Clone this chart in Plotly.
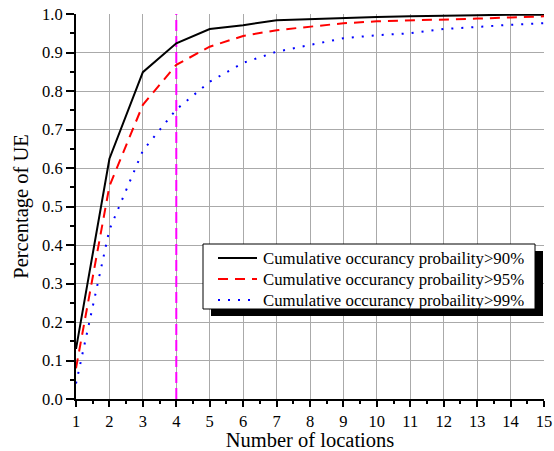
import plotly.graph_objects as go

locations = list(range(1, 16))
p90 = [0.13, 0.624, 0.849, 0.924, 0.961, 0.971, 0.984, 0.987, 0.989, 0.992, 0.994, 0.996, 0.997, 0.998, 0.998]
p95 = [0.08, 0.553, 0.764, 0.868, 0.915, 0.943, 0.958, 0.967, 0.976, 0.981, 0.983, 0.986, 0.988, 0.991, 0.994]
p99 = [0.04, 0.44, 0.645, 0.752, 0.824, 0.873, 0.902, 0.919, 0.937, 0.945, 0.950, 0.961, 0.967, 0.972, 0.976]
names = ["Cumulative occurancy probaility>90%",
         "Cumulative occurancy probaility>95%",
         "Cumulative occurancy probaility>99%"]
colors = ["black", "red", "blue"]
dashes = ["solid", "10px,7px", "2px,8px"]
y_ticks = [0.0, 0.1, 0.2, 0.3, 0.4, 0.5, 0.6, 0.7, 0.8, 0.9, 1.0]
y_tick_labels = ["0.0", "0.1", "0.2", "0.3", "0.4", "0.5", "0.6", "0.7", "0.8", "0.9", "1.0"]
x_ticks = list(range(1, 16))
marker_x = [4, 4]
marker_y = [0, 1]

FONT = "Liberation Serif"

fig = go.Figure()
fig.add_trace(go.Scatter(x=marker_x, y=marker_y, mode="lines",
                         line=dict(color="#ff00ff", width=2, dash="11px,5px"),
                         showlegend=False, hoverinfo="skip"))
for ys, nm, c, d in zip([p90, p95, p99], names, colors, dashes):
    fig.add_trace(go.Scatter(x=locations, y=ys, mode="lines", name=nm,
                             line=dict(color=c, width=2, dash=d), showlegend=False))

W, H = 554, 451
L, R, T, B = 76, 10, 14, 52
pw = W - L - R
ph = H - T - B

def px_x(p):  # page pixel -> paper
    return (p - L) / pw

def px_y(p):
    return (H - B - p) / ph

# legend box with drop shadow
bx0, bx1, by0, by1 = 203, 535, 244, 309
fig.add_shape(type="rect", xref="paper", yref="paper",
              x0=px_x(bx0 + 8), x1=px_x(bx1 + 8), y0=px_y(by1 + 7), y1=px_y(by0 + 7),
              fillcolor="black", line=dict(width=0), layer="above")
fig.add_shape(type="rect", xref="paper", yref="paper",
              x0=px_x(bx0), x1=px_x(bx1), y0=px_y(by1), y1=px_y(by0),
              fillcolor="white", line=dict(width=1, color="black"), layer="above")
for i, (nm, c, d) in enumerate(zip(names, colors, dashes)):
    yy = px_y(258 + 21 * i)
    fig.add_shape(type="line", xref="paper", yref="paper",
                  x0=px_x(218), x1=px_x(257), y0=yy, y1=yy,
                  line=dict(color=c, width=2, dash=d), layer="above")
    fig.add_annotation(xref="paper", yref="paper", x=px_x(261), y=yy,
                       xanchor="left", yanchor="middle", showarrow=False,
                       text=nm, font=dict(family=FONT, size=16.8, color="black"))

fig.update_layout(
    width=W, height=H,
    margin=dict(l=L, r=R, t=T, b=B, autoexpand=False),
    paper_bgcolor="white", plot_bgcolor="white",
    font=dict(family=FONT, size=16, color="black"),
    showlegend=False,
    xaxis=dict(range=[1, 15], tickmode="array", tickvals=x_ticks,
               automargin=False,
               showgrid=True, gridcolor="#aaaaaa", gridwidth=1,
               showline=True, linecolor="black", linewidth=2,
               ticks="outside", ticklen=6, tickwidth=1.5, tickcolor="black",
               minor=dict(dtick=0.5, tick0=1, ticks="outside", ticklen=3, tickcolor="black", showgrid=False),
               zeroline=False,
               title=dict(text="Number of locations", font=dict(size=20.5), standoff=2),
               tickfont=dict(size=16.5)),
    yaxis=dict(range=[0, 1.0], tickmode="array", tickvals=y_ticks, ticktext=y_tick_labels,
               automargin=False,
               showgrid=True, gridcolor="#aaaaaa", gridwidth=1,
               showline=True, linecolor="black", linewidth=2,
               ticks="outside", ticklen=8, tickwidth=1.5, tickcolor="black",
               minor=dict(dtick=0.05, tick0=0, ticks="outside", ticklen=4, tickcolor="black", showgrid=False),
               zeroline=False,
               title=dict(text="Percentage of UE", font=dict(size=20.5), standoff=8),
               tickfont=dict(size=16.5)),
)

fig.write_html("out.html", config={"displayModeBar": False},
               post_script="document.body.style.margin='0';")
